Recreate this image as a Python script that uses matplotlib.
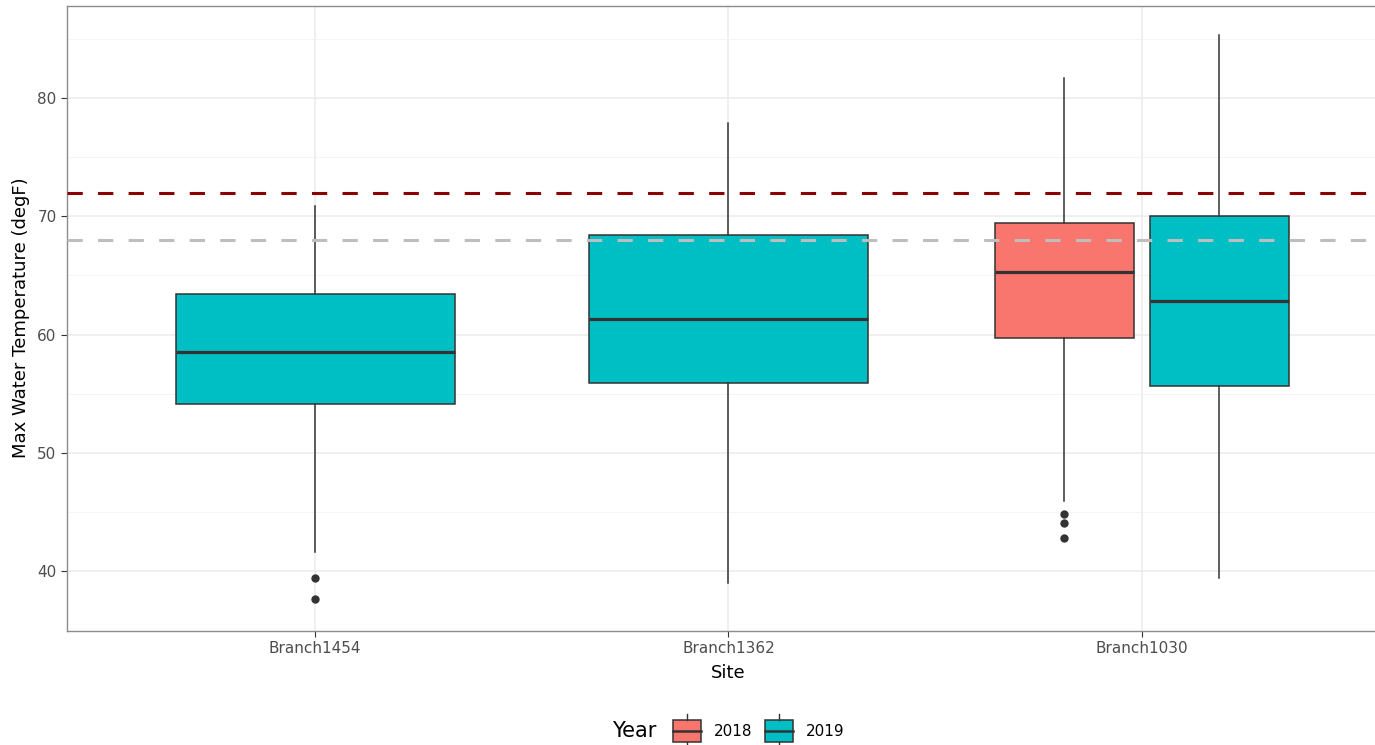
import matplotlib
matplotlib.use("Agg")
import matplotlib.pyplot as plt
from matplotlib.patches import Rectangle
from matplotlib.lines import Line2D
from matplotlib.legend_handler import HandlerBase

# box stats per site/year (degF)
site_names = ["Branch1454", "Branch1362", "Branch1030"]
box_site = [0, 1, 2, 2]
box_year = ["2019", "2019", "2018", "2019"]
whislo = [41.6, 39.0, 45.9, 39.4]
q1 = [54.1, 55.9, 59.75, 55.65]
med = [58.55, 61.3, 65.3, 62.8]
q3 = [63.4, 68.4, 69.45, 70.0]
whishi = [70.85, 77.9, 81.65, 85.3]
fliers = [[39.4, 37.7], [], [44.8, 44.1, 42.8], []]

years = ["2018", "2019"]
year_colors = {"2018": "#F8766D", "2019": "#00BFC4"}
threshold_high = 72
threshold_low = 68

fig = plt.figure(figsize=(13.75, 7.45), dpi=100)
# panel runs a little past the right edge of the figure
ax = fig.add_axes([67 / 1375, 1 - 630.5 / 745, 1323 / 1375, 625 / 745])

# ggplot-style dodge: 0.75 group width, 10% padding between boxes
grp_w = 0.75
for i in range(len(site_names)):
    idx = [k for k in range(len(box_site)) if box_site[k] == i]
    n = len(idx)
    for j, k in enumerate(idx):
        pos = i + 1 - grp_w / 2 + grp_w / n * (j + 0.5)
        st = dict(whislo=whislo[k], q1=q1[k], med=med[k], q3=q3[k],
                  whishi=whishi[k], fliers=fliers[k])
        ax.bxp([st], positions=[pos], widths=grp_w / n * 0.9,
               patch_artist=True, showcaps=False, zorder=3,
               boxprops=dict(facecolor=year_colors[box_year[k]],
                             edgecolor="#333333", linewidth=1.1),
               medianprops=dict(color="#333333", linewidth=2.3),
               whiskerprops=dict(color="#333333", linewidth=1.1),
               flierprops=dict(marker="o", markerfacecolor="#333333",
                               markeredgecolor="#333333", markersize=5))

ax.axhline(threshold_high, color="#8B0000", linewidth=2.2,
           linestyle=(0, (5, 5)), zorder=4)
ax.axhline(threshold_low, color="#BEBEBE", linewidth=2.2,
           linestyle=(0, (5, 5)), zorder=4)

ax.set_xlim(0.4, 3.6)
ax.set_ylim(35.4, 87.8)
ax.set_xticks([1, 2, 3])
ax.set_xticklabels(site_names)
ax.set_yticks([40, 50, 60, 70, 80])
ax.set_yticks([35, 45, 55, 65, 75, 85], minor=True)

ax.grid(True, which="major", color="#EBEBEB", linewidth=1.1, zorder=0)
ax.grid(True, which="minor", axis="y", color="#F2F2F2", linewidth=0.6, zorder=0)
ax.set_axisbelow(True)
for s in ax.spines.values():
    s.set_color("#8C8C8C")
    s.set_linewidth(1.0)

ax.tick_params(axis="both", which="major", colors="#333333", length=4,
               width=0.8, labelsize=11, labelcolor="#4D4D4D")
ax.tick_params(axis="y", which="minor", length=0)

ax.set_xlabel("Site", fontsize=13, color="black", labelpad=6)
ax.set_ylabel("Max Water Temperature (degF)", fontsize=13, color="black", labelpad=5)


class BoxKey(HandlerBase):
    # little boxplot glyph: filled box, median bar, whisker stubs
    def create_artists(self, legend, orig_handle, xdescent, ydescent,
                       width, height, fontsize, trans):
        fc = orig_handle.get_facecolor()
        x0, y0 = -xdescent, -ydescent
        bx = Rectangle((x0, y0 - height * 0.1), width, height * 1.2,
                       facecolor=fc, edgecolor="#333333", linewidth=1.1,
                       transform=trans)
        mid = Line2D([x0, x0 + width], [y0 + height / 2] * 2,
                     color="#333333", linewidth=1.8, transform=trans)
        top = Line2D([x0 + width / 2] * 2, [y0 + height * 1.1, y0 + height * 1.4],
                     color="#333333", linewidth=1.0, transform=trans)
        bot = Line2D([x0 + width / 2] * 2, [y0 - height * 0.4, y0 - height * 0.1],
                     color="#333333", linewidth=1.0, transform=trans)
        return [bx, mid, top, bot]


handles = [Rectangle((0, 0), 1, 1, facecolor=year_colors[y]) for y in years]
leg = fig.legend(handles, years, loc="center", bbox_to_anchor=(758.5 / 1375, 1 - 731 / 745),
                 ncol=2, frameon=False, fontsize=11, handler_map={Rectangle: BoxKey()},
                 handlelength=1.85, handleheight=1.55, columnspacing=0.85,
                 handletextpad=0.8, borderpad=0.2)
fig.text(612 / 1375, 1 - 731 / 745, "Year", fontsize=15, va="center", ha="left")

fig.savefig("out.png", dpi=100, facecolor="white")
